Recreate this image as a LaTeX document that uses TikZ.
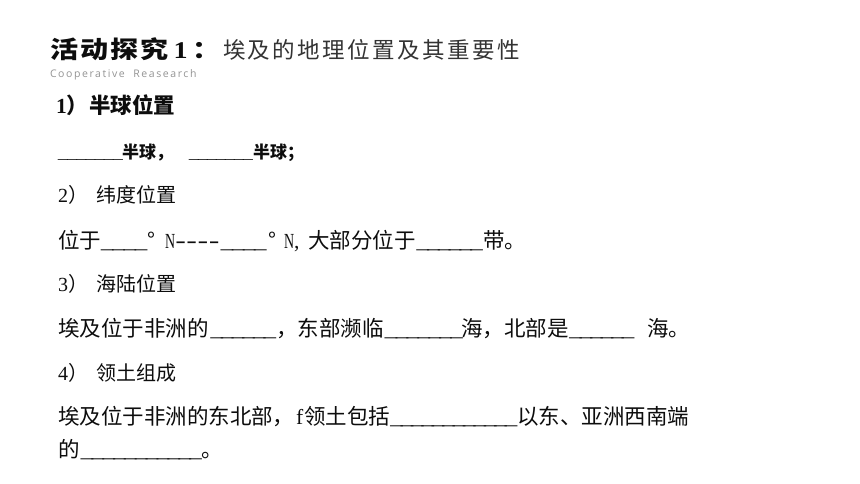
\documentclass[tikz,border=0pt]{standalone}
\usepackage{fontspec}
\setmainfont{Noto Sans CJK SC}
\newfontfamily\latinsans{Open Sans}
\newfontfamily\latinserif{Liberation Serif}
\newfontfamily\hyphsans{Liberation Sans}
\newfontfamily\monof{Liberation Mono}
\newcommand\blank[1]{\hbox to #1{\xleaders\hbox{\monof\textunderscore\kern-0.12em}\hfill}}
\newcommand\wide[2]{\scalebox{#1}[1]{#2}}
\begin{document}
\begin{tikzpicture}[x=1pt,y=-1pt,
  t/.style={anchor=base west,inner sep=0pt,outer sep=0pt,text=black!95},
  titlef/.style={t,font=\fontsize{24}{26}\selectfont\bfseries\addfontfeature{LetterSpace=8}},
  subf/.style={t,text=black!80,font=\fontsize{22.5}{25}\selectfont\addfontfeature{LetterSpace=11}},
  engf/.style={t,text=black!42,font=\latinsans\fontsize{10.5}{12}\selectfont\addfontfeature{LetterSpace=15}},
  headA/.style={t,font=\fontsize{21.5}{24}\selectfont\bfseries},
  bodyA/.style={t,font=\fontsize{17}{19}\selectfont\bfseries},
  head/.style={t,font=\fontsize{20}{22}\selectfont},
  body/.style={t,font=\fontsize{21.5}{24}\selectfont}]
\useasboundingbox (0,0) rectangle (860,484);
\fill[white] (0,0) rectangle (860,484);
% title
\node[titlef] (ti) at (50,59) {\wide{1.17}{活动探究\,{\latinserif 1}\,：}};
\node[subf] (sub) at (223,58.5) {埃及的地理位置及其重要性};
\node[engf] (en) at (50,77.5) {Cooperative\ \ Reasearch};
% 1
\node[headA] (h1a) at (56,113.5) {{\latinserif 1}）};
\node[headA] (h1b) at (89,113.5) {半球位置};
\node[bodyA] (l1a) at (57,159) {\blank{65pt}};
\node[bodyA] (l1b) at (122,159) {半球，};
\node[bodyA] (l1c) at (188,159) {\blank{64pt}};
\node[bodyA] (l1d) at (253,159) {半球；};
% 2
\node[head] (h2a) at (58,203) {{\latinserif 2}）};
\node[head] (h2b) at (96,203) {纬度位置};
\node[body] (l2a) at (58,248) {位于};
\node[body] (l2b) at (100,248) {\blank{46pt}};
\node[body] (l2c) at (147,248) {°};
\node[body,font=\latinserif\fontsize{21.5}{24}\selectfont] (l2d) at (165,248) {\wide{0.65}{N}};
\node[body,font=\hyphsans\fontsize{21.5}{24}\selectfont] (l2e) at (175,248) {\wide{1.56}{-{}-{}-{}-}};
\node[body] (l2f) at (220,248) {\blank{45pt}};
\node[body] (l2g) at (268,248) {°};
\node[body,font=\latinserif\fontsize{21.5}{24}\selectfont] (l2h) at (284,248) {\wide{0.65}{N},};
\node[body] (l2i) at (308,248) {大部分位于};
\node[body] (l2j) at (416,248) {\blank{65pt}};
\node[body] (l2k) at (483,248) {带。};
% 3
\node[head] (h3a) at (58,291) {{\latinserif 3}）};
\node[head] (h3b) at (96,291) {海陆位置};
\node[body] (l3a) at (58,336) {埃及位于非洲的};
\node[body] (l3b) at (210,336) {\blank{64pt}};
\node[body] (l3c) at (276,336) {，东部濒临};
\node[body] (l3d) at (384,336) {\blank{77pt}};
\node[body] (l3e) at (461,336) {海，北部是};
\node[body] (l3f) at (569,336) {\blank{63pt}};
\node[body] (l3g) at (647,336) {海。};
% 4
\node[head] (h4a) at (58,380) {{\latinserif 4}）};
\node[head] (h4b) at (96,380) {领土组成};
\node[body] (l4a) at (58,424) {埃及位于非洲的东北部，};
\node[body,font=\latinserif\fontsize{21.5}{24}\selectfont] (l4f) at (296,424) {f};
\node[body] (l4b) at (304,424) {领土包括};
\node[body] (l4c) at (390,424) {\blank{125pt}};
\node[body] (l4d) at (517,424) {以东、亚洲西南端};
\node[body] (l5a) at (58,457) {的};
\node[body] (l5b) at (80,457) {\blank{120pt}};
\node[body] (l5c) at (201,457) {。};
\end{tikzpicture}
\end{document}
